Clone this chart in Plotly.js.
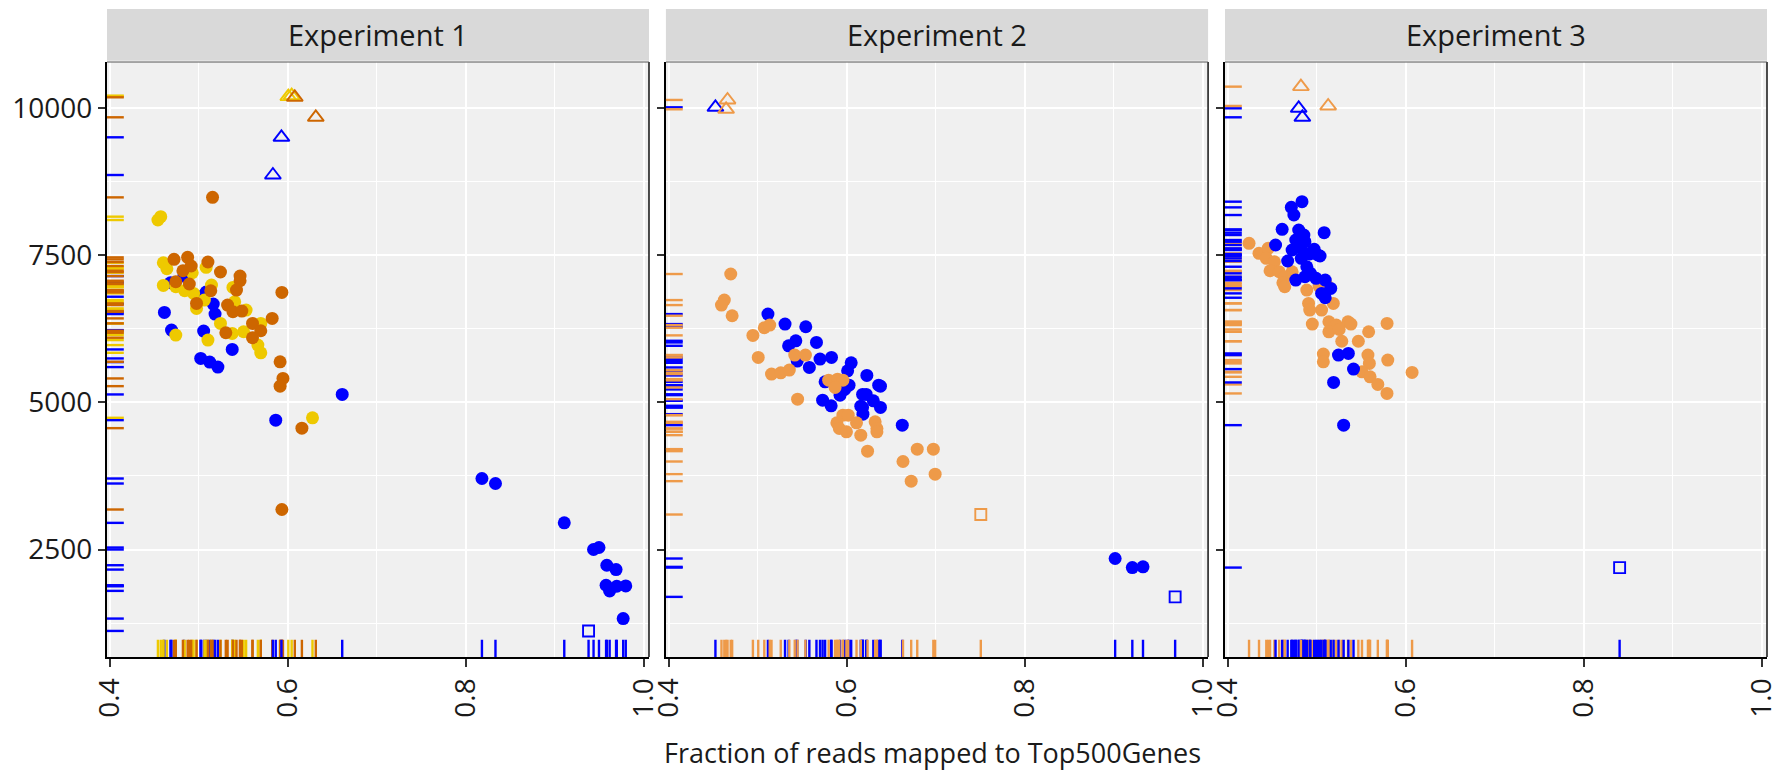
<!DOCTYPE html>
<html><head><meta charset="utf-8">
<script src="https://cdn.plot.ly/plotly-3.0.1.min.js"></script>
<style>html,body{margin:0;padding:0;background:#fff}#chart{width:1787px;height:773px}</style>
</head><body><div id="chart"></div>
<script>
const panelTitles = ['Experiment 1', 'Experiment 2', 'Experiment 3'];
const xTickVals = [0.4, 0.6, 0.8, 1.0];
const xTickText = ['0.4', '0.6', '0.8', '1.0'];
const yTickVals = [2500, 5000, 7500, 10000];
const yTickText = ['2500', '5000', '7500', '10000'];
const xAxisTitle = 'Fraction of reads mapped to Top500Genes';

// ---- Experiment 1 ----
const exp1BlueX = [0.4615, 0.4683, 0.4835, 0.5084, 0.5023, 0.5164, 0.5184, 0.4695, 0.5056, 0.5377, 0.5023, 0.5124, 0.5216, 0.6613, 0.5866, 0.8183, 0.8335, 0.9108, 0.9437, 0.9498, 0.9586, 0.9690, 0.9578, 0.9618, 0.9698, 0.9799, 0.9770];
const exp1BlueY = [6531, 7035, 7148, 6877, 6797, 6672, 6502, 6230, 6213, 5901, 5748, 5686, 5601, 5136, 4699, 3707, 3622, 2953, 2500, 2534, 2233, 2159, 1893, 1797, 1876, 1882, 1326];
const exp1GoldX = [0.4542, 0.4574, 0.4603, 0.5084, 0.4643, 0.4928, 0.4603, 0.4743, 0.4843, 0.4943, 0.5144, 0.5385, 0.5064, 0.4976, 0.5405, 0.5533, 0.5245, 0.5698, 0.5505, 0.5377, 0.4743, 0.5104, 0.5665, 0.5698, 0.6279];
const exp1GoldY = [8101, 8158, 7375, 7296, 7273, 7205, 6990, 6967, 6899, 6854, 6996, 6956, 6740, 6599, 6712, 6570, 6344, 6344, 6202, 6174, 6145, 6060, 5975, 5844, 4739];
const exp1DarkX = [0.5156, 0.4723, 0.4876, 0.5104, 0.4823, 0.4916, 0.5245, 0.5465, 0.5465, 0.4743, 0.4895, 0.5136, 0.5425, 0.5935, 0.4976, 0.5325, 0.5385, 0.5485, 0.5826, 0.5605, 0.5698, 0.5605, 0.5305, 0.5915, 0.5947, 0.5915, 0.6160, 0.5935];
const exp1DarkY = [8486, 7432, 7466, 7387, 7239, 7319, 7217, 7148, 7069, 7052, 7013, 6899, 6910, 6871, 6684, 6655, 6542, 6553, 6429, 6344, 6219, 6100, 6185, 5691, 5408, 5277, 4563, 3180];
const exp1TriBlueX = [0.5930, 0.5834];
const exp1TriBlueY = [9507, 8866];
const exp1TriGoldX = [0.6007, 0.6045];
const exp1TriGoldY = [10198, 10215];
const exp1TriDarkX = [0.6080, 0.6316];
const exp1TriDarkY = [10187, 9847];
const exp1SqBlueX = [0.9381];
const exp1SqBlueY = [1116];

// ---- Experiment 2 ----
const exp2BlueX = [0.5116, 0.5308, 0.5541, 0.5429, 0.5348, 0.5661, 0.5445, 0.5701, 0.5830, 0.5581, 0.6051, 0.6011, 0.6227, 0.5758, 0.6027, 0.6360, 0.6380, 0.5978, 0.6179, 0.6220, 0.5926, 0.5730, 0.6300, 0.5826, 0.6159, 0.6179, 0.6380, 0.6183, 0.6625, 0.9016, 0.9209, 0.9329];
const exp2BlueY = [6502, 6332, 6287, 6048, 5963, 6020, 5703, 5737, 5765, 5595, 5674, 5538, 5459, 5351, 5294, 5294, 5277, 5221, 5136, 5136, 5124, 5039, 5028, 4943, 4937, 4915, 4915, 4801, 4614, 2347, 2193, 2205];
const exp2TanX = [0.4698, 0.4626, 0.4594, 0.4714, 0.5075, 0.5136, 0.4947, 0.5007, 0.5417, 0.5537, 0.5156, 0.5260, 0.5356, 0.5798, 0.5898, 0.5958, 0.5870, 0.5449, 0.5958, 0.6018, 0.5890, 0.6111, 0.6320, 0.5918, 0.5998, 0.6340, 0.6340, 0.6159, 0.6793, 0.6974, 0.6235, 0.6633, 0.6994, 0.6725];
const exp2TanY = [7183, 6740, 6655, 6474, 6270, 6315, 6140, 5765, 5805, 5805, 5482, 5504, 5550, 5379, 5396, 5379, 5255, 5056, 4784, 4784, 4654, 4654, 4671, 4557, 4501, 4557, 4501, 4444, 4206, 4206, 4172, 3996, 3781, 3662];
const exp2TriBlueX = [0.4526];
const exp2TriBlueY = [10017];
const exp2TriTanX = [0.4662, 0.4646];
const exp2TriTanY = [10142, 9983];
const exp2SqBlueX = [0.9690];
const exp2SqBlueY = [1695];
const exp2SqTanX = [0.7507];
const exp2SqTanY = [3095];

// ---- Experiment 3 ----
const exp3BlueX = [0.4835, 0.4715, 0.4744, 0.4612, 0.4798, 0.5084, 0.4856, 0.4765, 0.4868, 0.4538, 0.4724, 0.4827, 0.4972, 0.5013, 0.4922, 0.4827, 0.4674, 0.5038, 0.4889, 0.4930, 0.4868, 0.4765, 0.4993, 0.5096, 0.5158, 0.5055, 0.5096, 0.5245, 0.5356, 0.5414, 0.5190, 0.5303];
const exp3BlueY = [8413, 8316, 8186, 7942, 7931, 7885, 7846, 7761, 7732, 7676, 7591, 7619, 7602, 7506, 7523, 7449, 7404, 7489, 7307, 7194, 7137, 7080, 7109, 7080, 6939, 6854, 6780, 5805, 5833, 5567, 5340, 4614];
const exp3TanX = [0.4240, 0.4352, 0.4455, 0.4434, 0.4525, 0.4476, 0.4579, 0.4724, 0.4641, 0.4620, 0.4641, 0.5026, 0.5108, 0.4889, 0.5187, 0.4909, 0.4922, 0.5055, 0.4951, 0.5137, 0.5220, 0.5352, 0.5385, 0.5791, 0.5584, 0.5137, 0.5253, 0.5282, 0.5468, 0.5075, 0.5075, 0.5576, 0.5592, 0.5799, 0.5509, 0.5600, 0.6072, 0.5687, 0.5790];
const exp3TanY = [7704, 7534, 7619, 7449, 7392, 7239, 7222, 7222, 7137, 7035, 6967, 6978, 7012, 6910, 6684, 6684, 6570, 6570, 6332, 6372, 6315, 6372, 6332, 6344, 6202, 6201, 6241, 6040, 6040, 5822, 5691, 5805, 5663, 5720, 5521, 5436, 5510, 5306, 5153];
const exp3TriBlueX = [0.4798, 0.4839];
const exp3TriBlueY = [10000, 9847];
const exp3TriTanX = [0.4823, 0.5129];
const exp3TriTanY = [10368, 10040];
const exp3SqBlueX = [0.8404];
const exp3SqBlueY = [2193];

// ---- styling ----
const BLUE = '#0000FF', DARK = '#CD6600', GOLD = '#EEC900', TAN = '#EE9A49';
const panels = [
  [
    {x: exp1BlueX, y: exp1BlueY, c: BLUE, s: 'circle'},
    {x: exp1GoldX, y: exp1GoldY, c: GOLD, s: 'circle'},
    {x: exp1DarkX, y: exp1DarkY, c: DARK, s: 'circle'},
    {x: exp1TriBlueX, y: exp1TriBlueY, c: BLUE, s: 'triangle-up-open'},
    {x: exp1TriGoldX, y: exp1TriGoldY, c: GOLD, s: 'triangle-up-open'},
    {x: exp1TriDarkX, y: exp1TriDarkY, c: DARK, s: 'triangle-up-open'},
    {x: exp1SqBlueX, y: exp1SqBlueY, c: BLUE, s: 'square-open'}
  ],
  [
    {x: exp2BlueX, y: exp2BlueY, c: BLUE, s: 'circle'},
    {x: exp2TanX, y: exp2TanY, c: TAN, s: 'circle'},
    {x: exp2TriBlueX, y: exp2TriBlueY, c: BLUE, s: 'triangle-up-open'},
    {x: exp2TriTanX, y: exp2TriTanY, c: TAN, s: 'triangle-up-open'},
    {x: exp2SqBlueX, y: exp2SqBlueY, c: BLUE, s: 'square-open'},
    {x: exp2SqTanX, y: exp2SqTanY, c: TAN, s: 'square-open'}
  ],
  [
    {x: exp3TanX, y: exp3TanY, c: TAN, s: 'circle'},
    {x: exp3BlueX, y: exp3BlueY, c: BLUE, s: 'circle'},
    {x: exp3TriBlueX, y: exp3TriBlueY, c: BLUE, s: 'triangle-up-open'},
    {x: exp3TriTanX, y: exp3TriTanY, c: TAN, s: 'triangle-up-open'},
    {x: exp3SqBlueX, y: exp3SqBlueY, c: BLUE, s: 'square-open'}
  ]
];

const FONT = '"Open Sans", "Noto Sans", sans-serif';
const traces = [];
const shapes = [];
const annotations = [];
const layout = {
  width: 1787, height: 773,
  margin: {l: 107, r: 20, t: 62, b: 116.3},
  paper_bgcolor: '#ffffff',
  plot_bgcolor: '#F0F0F0',
  showlegend: false,
  font: {family: FONT, color: '#1a1a1a'}
};
const domains = [[0, 0.3265], [0.3367, 0.6633], [0.6735, 1]];

panels.forEach((groups, i) => {
  const sfx = i === 0 ? '' : String(i + 1);
  const xa = 'x' + sfx, ya = 'y' + sfx;
  groups.forEach(g => {
    const isOpen = g.s !== 'circle';
    traces.push({
      type: 'scatter', mode: 'markers', x: g.x, y: g.y, xaxis: xa, yaxis: ya,
      marker: {
        symbol: g.s, color: g.c,
        size: g.s === 'circle' ? 13 : (g.s === 'square-open' ? 11 : 14),
        line: isOpen ? {color: g.c, width: 1.9} : {width: 0}
      },
      hoverinfo: 'x+y'
    });
    // rugs
    g.y.forEach(v => shapes.push({type: 'line', layer: 'above', xref: xa + ' domain', yref: ya,
      x0: 0, x1: 0.031, y0: v, y1: v, line: {color: g.c, width: 2.4}}));
    g.x.forEach(v => shapes.push({type: 'line', layer: 'above', xref: xa, yref: ya + ' domain',
      x0: v, x1: v, y0: 0, y1: 0.029, line: {color: g.c, width: 2.4}}));
  });
  // panel right and top borders
  shapes.push({type: 'line', layer: 'above', xref: xa + ' domain', yref: ya + ' domain',
    x0: 1, x1: 1, y0: 0, y1: 1, line: {color: '#222', width: 1.6}});
  shapes.push({type: 'line', layer: 'above', xref: xa + ' domain', yref: ya + ' domain',
    x0: 0, x1: 1, y0: 1, y1: 1, line: {color: '#555', width: 1.2}});
  // strip
  shapes.push({type: 'rect', layer: 'above', xref: xa + ' domain', yref: ya + ' domain',
    x0: 0, x1: 1, y0: 1.002, y1: 1.089, fillcolor: '#D9D9D9', line: {width: 0}});
  annotations.push({text: panelTitles[i], xref: xa + ' domain', yref: ya + ' domain',
    x: 0.5, y: 1.046, xanchor: 'center', yanchor: 'middle', showarrow: false,
    font: {family: FONT, size: 29, color: '#1a1a1a'}});

  layout['xaxis' + sfx] = {
    domain: domains[i], anchor: ya, range: [0.397, 1.006],
    tickmode: 'array', tickvals: xTickVals, ticktext: xTickText, tickangle: -90,
    ticks: 'outside', ticklen: 8, tickwidth: 1.5, tickcolor: '#333',
    tickfont: {family: FONT, size: 28, color: '#1a1a1a'},
    showgrid: true, gridcolor: '#ffffff', gridwidth: 2.2,
    minor: {dtick: 0.1, tick0: 0.4, showgrid: true, gridcolor: '#ffffff', gridwidth: 1.1, ticks: ''},
    showline: true, linecolor: '#000', linewidth: 2.2, mirror: false,
    zeroline: false, fixedrange: true
  };
  layout['yaxis' + sfx] = {
    domain: [0, 1], anchor: xa, range: [673, 10787],
    tickmode: 'array', tickvals: yTickVals, ticktext: yTickText,
    showticklabels: i === 0,
    ticks: 'outside', ticklen: 7, tickwidth: 1.5, tickcolor: '#333',
    tickfont: {family: FONT, size: 28, color: '#1a1a1a'},
    showgrid: true, gridcolor: '#ffffff', gridwidth: 2.2,
    minor: {dtick: 1250, tick0: 0, showgrid: true, gridcolor: '#ffffff', gridwidth: 1.1, ticks: ''},
    showline: true, linecolor: '#000', linewidth: 2.2, mirror: false,
    zeroline: false, fixedrange: true
  };
  if (i > 0) layout['yaxis' + sfx].matches = 'y';
});

annotations.push({text: xAxisTitle, xref: 'paper', yref: 'paper', x: 0.497, y: -0.16,
  xanchor: 'center', yanchor: 'middle', showarrow: false,
  font: {family: FONT, size: 27, color: '#1a1a1a'}});

layout.shapes = shapes;
layout.annotations = annotations;

Plotly.newPlot('chart', traces, layout, {displayModeBar: false, responsive: false});
</script>
</body></html>
